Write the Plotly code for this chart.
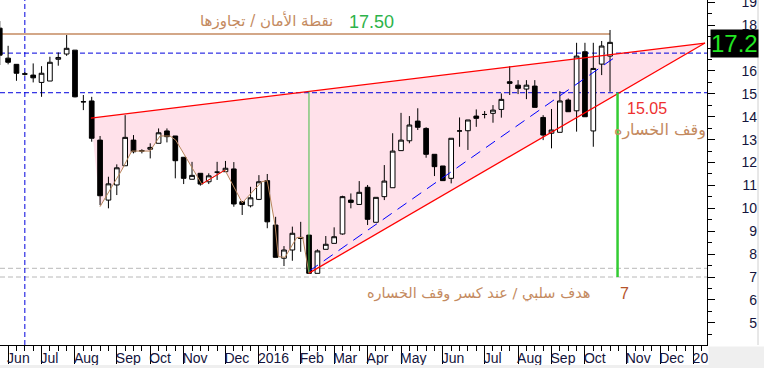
import plotly.graph_objects as go

# ---------------- data ----------------
week_index = list(range(74))
opens = [17.87, 16.56, 16.29, 15.88, 15.82, 15.50, 15.56, 16.51, 16.74, 16.91,
         14.66, 14.69, 12.98, 10.36, 11.02, 11.86, 12.98, 12.52, 12.58, 12.84,
         13.38, 13.16, 12.23, 11.27, 11.53, 11.16, 11.58, 11.60, 11.72, 10.29,
         10.11, 10.39, 11.21, 9.27, 7.82, 8.18, 8.73, 8.83, 7.16, 8.21,
         8.47, 8.88, 10.36, 10.17, 10.92, 9.39, 10.51, 10.90, 12.52, 12.95,
         13.81, 13.49, 12.36, 11.85, 11.31, 13.38, 13.39, 14.03, 14.10, 14.15,
         14.32, 15.53, 15.38, 15.21, 15.34, 13.97, 13.28, 13.32, 14.73, 14.26,
         16.84, 13.38, 16.30, 16.65]
highs = [18.18, 17.10, 16.29, 15.95, 16.33, 16.21, 16.62, 16.81, 17.57, 16.91,
         14.95, 14.87, 13.16, 11.38, 11.92, 14.07, 13.20, 12.58, 12.84, 13.49,
         13.49, 13.16, 12.23, 12.03, 11.53, 11.53, 12.03, 12.07, 12.02, 10.30,
         10.94, 11.45, 11.50, 9.63, 8.35, 9.20, 9.41, 8.83, 8.21, 8.79,
         9.17, 10.55, 10.65, 11.19, 11.02, 10.48, 11.89, 13.28, 14.17, 14.03,
         14.37, 13.54, 12.36, 11.85, 13.06, 13.97, 13.86, 14.32, 14.25, 14.51,
         15.02, 16.21, 15.60, 15.60, 15.60, 14.07, 14.34, 15.12, 14.80, 17.23,
         17.23, 17.23, 17.31, 17.79]
lows = [16.26, 16.29, 15.57, 15.80, 15.50, 14.87, 15.56, 16.23, 16.66, 14.85,
        14.29, 12.91, 10.14, 10.00, 10.58, 11.86, 12.40, 12.40, 12.18, 12.84,
        12.88, 11.31, 11.06, 11.27, 10.99, 11.06, 11.24, 11.60, 10.07, 9.71,
        10.04, 10.36, 9.13, 7.86, 7.48, 7.71, 8.10, 7.16, 7.16, 8.21,
        8.47, 8.85, 10.00, 10.17, 9.27, 9.39, 10.36, 10.90, 12.52, 12.84,
        13.42, 12.21, 11.41, 11.20, 11.09, 12.69, 12.55, 13.56, 13.93, 13.74,
        13.96, 14.95, 14.99, 14.77, 14.41, 12.98, 12.62, 13.32, 14.22, 13.35,
        14.00, 12.69, 15.82, 15.09]
closes = [16.69, 16.38, 15.90, 15.86, 15.70, 15.90, 16.38, 16.59, 16.99, 14.87,
          14.65, 13.06, 10.55, 11.07, 11.77, 13.10, 12.47, 12.50, 12.66, 13.30,
          13.13, 12.08, 11.31, 11.44, 11.06, 11.42, 11.58, 11.75, 10.19, 10.17,
          10.46, 11.16, 9.41, 7.86, 8.18, 8.91, 8.69, 7.16, 8.14, 8.43,
          8.76, 10.51, 10.26, 10.70, 9.52, 10.48, 11.19, 12.50, 12.98, 13.64,
          13.54, 12.36, 11.82, 11.21, 13.06, 13.38, 13.86, 13.93, 14.10, 14.29,
          14.76, 15.46, 15.24, 15.38, 14.41, 13.20, 13.42, 14.69, 14.22, 16.65,
          14.00, 16.11, 17.09, 17.25]

month_tick_idx = [1, 5, 9, 14, 18, 22, 27, 31, 36, 40, 44, 48, 53, 58, 62, 66, 70, 75, 79, 83]
month_tick_text = ["Jun", "Jul", "Aug", "Sep", "Oct", "Nov", "Dec", "2016", "Feb", "Mar",
                   "Apr", "May", "Jun", "Jul", "Aug", "Sep", "Oct", "Nov", "Dec", "2017"]
price_ticks = list(range(5, 20))

x_range = [0.03, 84.6]
y_range = [4.03, 19.1]

safety_level = 17.61
safety_end_idx = 73.0
upper_blue_level = 16.78
stop_level = 15.05
target_band = [7.38, 7.0]
marker_week = 3.0
last_price = 17.2

upper_line_idx = [10.9, 84.36]
upper_line_val = [13.94, 17.22]
lower_line_idx = [36.99, 84.36]
lower_line_val = [7.17, 17.22]
trend_idx = [36.99, 73.6]
trend_val = [7.25, 16.6]

zigzag_idx = [11.99, 14.59, 15.78, 17.97, 19.17, 20.37, 21.05, 24.16, 26.94, 29.01,
              31.33, 32.00, 32.93, 33.32, 34.12, 35.52, 36.24, 36.99]
zigzag_val = [10.07, 11.67, 12.50, 12.50, 13.16, 13.16, 12.98, 11.06, 11.67, 10.24,
              11.16, 11.21, 9.27, 7.89, 7.86, 8.72, 8.73, 7.16]
red_seg_idx = [24.16, 26.94]
red_seg_val = [11.06, 11.67]

low_week = 36.99
low_line_val = [15.1, 7.2]
stop_week = 73.9
stop_line_val = [15.05, 7.0]

txt_safety = "نقطة الأمان / تجاوزها"
txt_safety_val = "17.50"
txt_stop_val = "15.05"
txt_stop = "وقف الخساره"
txt_target = "هدف سلبي / عند كسر وقف الخساره"
txt_target_val = "7"

# ---------------- figure ----------------
fig = go.Figure()

shapes = []
# pink triangle region (below all traces)
poly_x = upper_line_idx + lower_line_idx[::-1] + zigzag_idx[::-1][1:]
poly_y = upper_line_val + lower_line_val[::-1] + zigzag_val[::-1][1:]
path = "M " + " L ".join(f"{px},{py}" for px, py in zip(poly_x, poly_y)) + " Z"
shapes.append(dict(type="path", path=path, xref="x", yref="y", fillcolor="#ffe1ea",
                   line=dict(width=0), layer="below"))


def hline(val, color, dash, width=1, x0=x_range[0], x1=x_range[1]):
    shapes.append(dict(type="line", xref="x", yref="y", x0=x0, x1=x1, y0=val, y1=val,
                       line=dict(color=color, dash=dash, width=width), layer="below"))


for v in target_band:
    hline(v, "#b8b8b8", "5px,3px")
hline(upper_blue_level, "#0000dd", "5px,3px")
hline(stop_level, "#0000dd", "5px,3px")
hline(safety_level, "#c48a60", "solid", 1.5, x_range[0], safety_end_idx)
shapes.append(dict(type="line", xref="x", yref="y", x0=marker_week, x1=marker_week,
                   y0=y_range[0], y1=y_range[1],
                   line=dict(color="#0000dd", dash="5px,3px", width=1), layer="below"))

fig.add_trace(go.Candlestick(
    x=week_index, open=opens, high=highs, low=lows, close=closes,
    increasing=dict(fillcolor="white", line=dict(color="black", width=1)),
    decreasing=dict(fillcolor="black", line=dict(color="black", width=1)),
    whiskerwidth=0, hoverinfo="skip"))

fig.add_trace(go.Scatter(x=zigzag_idx, y=zigzag_val, mode="lines",
                         line=dict(color="#b8865c", width=1), hoverinfo="skip"))
fig.add_trace(go.Scatter(x=red_seg_idx, y=red_seg_val, mode="lines",
                         line=dict(color="#ff0000", width=1), hoverinfo="skip"))
fig.add_trace(go.Scatter(x=upper_line_idx, y=upper_line_val, mode="lines",
                         line=dict(color="#ff0000", width=1.3), hoverinfo="skip"))
fig.add_trace(go.Scatter(x=lower_line_idx, y=lower_line_val, mode="lines",
                         line=dict(color="#ff0000", width=1.3), hoverinfo="skip"))
fig.add_trace(go.Scatter(x=trend_idx, y=trend_val, mode="lines",
                         line=dict(color="#0000ff", width=1, dash="11px,7px"), hoverinfo="skip"))
fig.add_trace(go.Scatter(x=[low_week, low_week], y=low_line_val, mode="lines",
                         line=dict(color="#44bb44", width=1), hoverinfo="skip"))
fig.add_trace(go.Scatter(x=[stop_week, stop_week], y=stop_line_val, mode="lines",
                         line=dict(color="#33cc33", width=2.5), hoverinfo="skip"))

# dummy trace for the label axis
fig.add_trace(go.Scatter(x=[None], y=[None], yaxis="y2", hoverinfo="skip"))

tan = "#c48a60"
ar_font = "DejaVu Sans"
annos = [
    dict(x=40.1, y=18.22, text=txt_safety, xanchor="right", font=dict(family=ar_font, size=15, color=tan)),
    dict(x=41.5, y=18.14, text=txt_safety_val, xanchor="left", font=dict(family="Liberation Sans", size=18, color="#2db34a")),
    dict(x=74.8, y=14.38, text=txt_stop_val, xanchor="left", font=dict(family="Liberation Sans", size=16, color="#ee3030")),
    dict(x=79.0, y=13.42, text=txt_stop, xanchor="center", font=dict(family=ar_font, size=16, color=tan)),
    dict(x=70.85, y=6.26, text=txt_target, xanchor="right", font=dict(family=ar_font, size=14.5, color=tan)),
    dict(x=73.95, y=6.26, text=txt_target_val, xanchor="left", font=dict(family="Liberation Sans", size=16, color="#b5532a")),
]
for a in annos:
    a.update(xref="x", yref="y", showarrow=False, yanchor="middle")
annos.append(dict(xref="paper", yref="y", x=710 / 757, y=last_price, text=str(last_price),
                  xanchor="left", yanchor="middle", showarrow=False, bgcolor="black",
                  borderpad=0, font=dict(family="Liberation Sans", size=24, color="#22e622")))
# grey corner below the price scale (covers the clipped part of the last month label)
annos.append(dict(xref="paper", yref="paper", x=707.5 / 757, y=-0.002, text=" ",
                  xanchor="left", yanchor="top", showarrow=False, bgcolor="#efefef",
                  width=57, height=24, borderpad=0, font=dict(size=10)))

shapes += [
    dict(type="rect", xref="paper", yref="paper", x0=-0.01, x1=1.02, y0=-0.08, y1=-0.058,
         fillcolor="#efefef", line=dict(width=0), layer="above"),
    dict(type="line", xref="paper", yref="paper", x0=758 / 757, x1=758 / 757, y0=0, y1=1.01,
         line=dict(color="#d0d0d0", width=1), layer="above"),
]

label_color = "#14143c"
fig.update_layout(
    width=764, height=368,
    margin=dict(l=0, r=7, t=0, b=23, autoexpand=False),
    paper_bgcolor="white", plot_bgcolor="white",
    showlegend=False, boxgap=0.2,
    annotations=annos, shapes=shapes,
    xaxis=dict(domain=[0, 707 / 757], range=x_range, rangeslider=dict(visible=False),
               tickmode="array", tickvals=month_tick_idx, ticktext=month_tick_text,
               ticks="outside", ticklen=18, tickcolor="black", tickwidth=1, tickangle=0,
               ticklabelposition="outside right", ticklabelstandoff=0, ticklabelshift=-2,
               ticklabeloverflow="allow", automargin=False,
               minor=dict(dtick=1, tick0=0, ticks="outside", ticklen=5, tickcolor="black"),
               showline=True, linecolor="black", linewidth=1, showgrid=False, zeroline=False,
               tickfont=dict(family="Liberation Sans", size=14, color=label_color)),
    yaxis=dict(range=y_range, side="right", anchor="x", showticklabels=False,
               tickmode="array", tickvals=price_ticks, ticks="outside", ticklen=7,
               tickcolor="black", automargin=False,
               minor=dict(dtick=0.5, tick0=0, ticks="outside", ticklen=4, tickcolor="black"),
               showline=True, linecolor="black", showgrid=False, zeroline=False),
    yaxis2=dict(range=y_range, overlaying="y", anchor="free", position=1.0, side="left",
                tickmode="array", tickvals=price_ticks, ticks="", showline=False,
                showgrid=False, zeroline=False, ticklabeloverflow="allow", automargin=False,
                tickfont=dict(family="Liberation Sans", size=14, color=label_color)),
)

fig.write_html("out.html", config={"displayModeBar": False},
               post_script="document.body.style.margin='0';")
